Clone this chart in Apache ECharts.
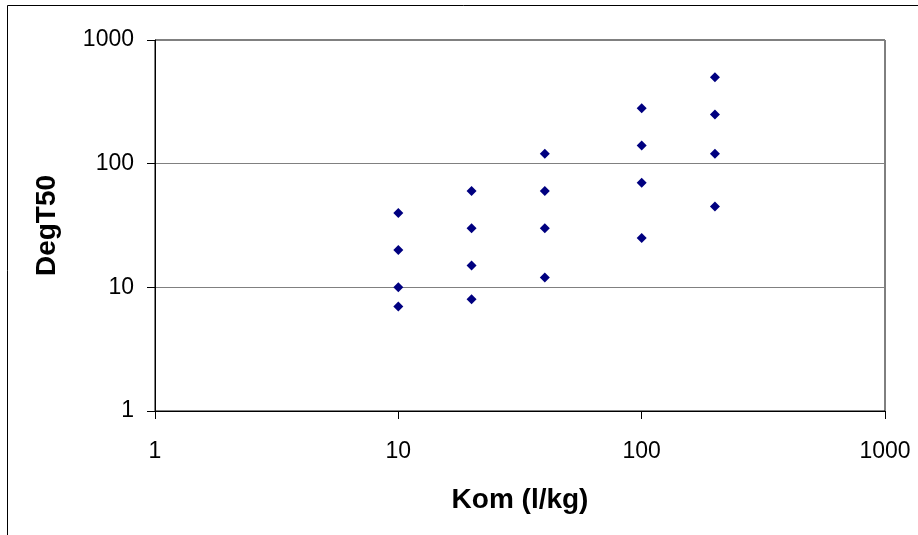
<!DOCTYPE html>
<html>
<head>
<meta charset="utf-8">
<script src="https://cdn.jsdelivr.net/npm/echarts@6/dist/echarts.min.js"></script>
<style>
html,body{margin:0;padding:0;background:#fff;}
#chart{width:918px;height:535px;}
</style>
</head>
<body>
<div id="chart"></div>
<script>
// Kom (l/kg) values and DegT50 values measured at each Kom
var komValues = [10, 20, 40, 100, 200];
var degT50AtKom10 = [40, 20, 10, 7];
var degT50AtKom20 = [60, 30, 15, 8];
var degT50AtKom40 = [120, 60, 30, 12];
var degT50AtKom100 = [280, 140, 70, 25];
var degT50AtKom200 = [500, 250, 120, 45];
var axisTickValues = [1, 10, 100, 1000];
var xAxisTitle = 'Kom (l/kg)';
var yAxisTitle = 'DegT50';

var groups = [degT50AtKom10, degT50AtKom20, degT50AtKom40, degT50AtKom100, degT50AtKom200];
var points = [];
groups.forEach(function (g, i) {
  g.forEach(function (v) { points.push([komValues[i], v]); });
});

var FONT = 'Liberation Sans, Arial, sans-serif';
var chart = echarts.init(document.getElementById('chart'), null, {renderer: 'canvas'});
chart.setOption({
  animation: false,
  backgroundColor: '#fff',
  graphic: [{
    type: 'rect',
    shape: {x: 7.5, y: 5.5, width: 1000, height: 1000},
    style: {fill: 'none', stroke: '#000', lineWidth: 1},
    silent: true
  }],
  grid: {
    left: 155, right: 33, top: 40, bottom: 124,
    show: true, borderColor: '#000', borderWidth: 1, backgroundColor: 'transparent'
  },
  xAxis: {
    type: 'log', logBase: 10, min: axisTickValues[0], max: axisTickValues[3],
    name: xAxisTitle, nameLocation: 'middle', nameGap: 75,
    nameTextStyle: {fontFamily: FONT, fontSize: 28, fontWeight: 'bold', color: '#000'},
    axisLine: {show: true, lineStyle: {color: '#000', width: 1}},
    axisTick: {show: true, inside: false, length: 8, lineStyle: {color: '#000'}},
    minorTick: {show: false},
    axisLabel: {fontFamily: FONT, fontSize: 23, color: '#000', margin: 29,
      formatter: function (v) { return String(Math.round(v)); }},
    splitLine: {show: false}
  },
  yAxis: {
    type: 'log', logBase: 10, min: axisTickValues[0], max: axisTickValues[3],
    name: yAxisTitle, nameLocation: 'middle', nameGap: 94,
    nameTextStyle: {fontFamily: FONT, fontSize: 28, fontWeight: 'bold', color: '#000'},
    axisLine: {show: true, lineStyle: {color: '#000', width: 1}},
    axisTick: {show: true, inside: false, length: 8, lineStyle: {color: '#000'}},
    minorTick: {show: false},
    axisLabel: {fontFamily: FONT, fontSize: 23, color: '#000', margin: 21,
      formatter: function (v) { return String(Math.round(v)); }},
    splitLine: {show: true, lineStyle: {color: '#808080', width: 1}}
  },
  series: [{
    type: 'scatter',
    data: points,
    symbol: 'diamond',
    symbolSize: 10,
    itemStyle: {color: '#000080', opacity: 1},
    silent: true
  }]
});
</script>
</body>
</html>
